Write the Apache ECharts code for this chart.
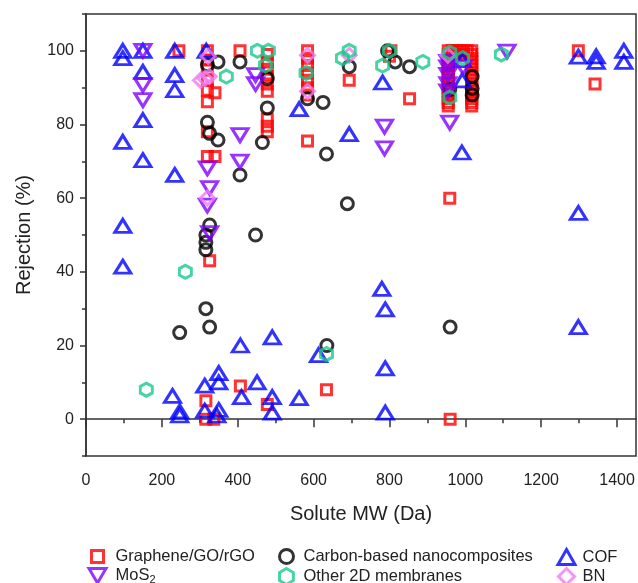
<!DOCTYPE html>
<html>
<head>
<meta charset="utf-8">
<script src="https://cdn.jsdelivr.net/npm/echarts@6/dist/echarts.min.js"></script>
<style>
html,body{margin:0;padding:0;background:#fff;}
#chart{width:638px;height:583px;}
</style>
</head>
<body>
<div id="chart"></div>
<script>
// ---- data ----
const xTicks = [0, 200, 400, 600, 800, 1000, 1200, 1400];
const xMinorTicks = [100, 300, 500, 700, 900, 1100, 1300];
const yTicks = [0, 20, 40, 60, 80, 100];
const yMinorTicks = [-10, 10, 30, 50, 70, 90, 110];

const seriesNames = ['Graphene/GO/rGO', 'Carbon-based nanocomposites', 'COF', 'MoS2', 'Other 2D membranes', 'BN'];

const grapheneData = [
  [245,100],[320,100],[320,97.5],[320,95],[320,92],[320,89.3],[320,86.2],[340,88.6],[320,78],[320,71.3],[340,71.3],
  [326,43],[316,5],[316,0],[337,0],[407,9],[478,4],[406,100],
  [478,99],[478,97],[478,95],[478,93],[478,91],[478,89],[478,81.5],[478,79.5],[478,78],
  [584,100],[584,98],[584,96],[584,94],[584,92],[584,90],[584,88],[584,75.5],
  [694,92],[853,87],[804,100],[800,98.5],[634,8],[960,0],[959,60],[1298,100],[1342,91],
  [955,100],[955,99],[955,98],[955,97],[955,96],[955,95],[955,94],[955,93],[955,92],[955,91],[955,90],[955,89],[955,88],[955,87],[955,86],[955,85],
  [965,100],[975,100],[985,100],[995,100],[1005,100],[975,99],[995,99],
  [1017,100],[1017,99],[1017,98],[1017,97],[1017,96],[1017,95],[1017,94],[1017,93],[1017,92],[1017,91],[1017,90],[1017,89],[1017,88],[1017,87],[1017,86],[1017,85]
];
const carbonData = [
  [320,96.2],[348,97],[406,97],[320,80.6],[326,77.6],[348,75.8],[406,66.3],[465,75.1],[478,92.5],[478,84.5],
  [584,87],[625,86],[634,72],[326,52.7],[316,50],[316,48],[316,46],[447,50],[247,23.5],[316,30],[326,25],[635,20],
  [694,95.7],[795,100],[815,97],[853,95.7],[689,58.5],[1018,93],[1018,89.8],[1018,88],[959,89.5],[960,25]
];
const cofData = [
  [97,100],[97,98],[97,75.3],[97,52.5],[97,41.4],[150,100],[150,94.3],[150,81.2],[150,70.3],
  [234,100],[234,93.4],[234,89.3],[234,66.3],[317,100],[562,84.2],[694,77.4],[782,91.4],[991,72.4],
  [992,97.5],[992,92],[1298,98.4],[1345,98.5],[1345,97],[1418,100],[1418,97],[1298,56],
  [780,35.4],[789,29.8],[789,13.8],[789,1.8],[1298,25],[228,6.3],[247,2.1],[247,1],[313,9.1],[313,2.3],
  [350,12.5],[350,10],[350,2.5],[345,1],[407,20],[410,6],[451,10],[491,22.2],[491,6],[491,1.8],[562,5.7],[613,17.4]
];
const mos2Data = [
  [150,100],[150,90.7],[150,86.6],[406,77.1],[406,69.9],[447,93.4],[447,91],[320,68.1],[326,62.7],[320,58],[326,50.5],
  [787,79.4],[787,73.5],[959,80.5],[1110,99.8],[954,97],[954,95.5],[954,93.5],[954,91],[954,89],[994,95.5]
];
const otherData = [
  [452,100],[481,100],[473,96],[370,93],[580,94],[262,40],[159,8],[634,17.7],[676,98],[694,100],[800,100],
  [782,96],[888,97],[959,99.5],[959,87.3],[993,98],[1095,99]
];
const bnData = [
  [322,98.5],[302,92],[314,92.5],[325,93],[320,60],[584,98.8],[584,89],[694,98.8],[954,98.8]
];

// ---- chart ----
const FONT = "Arial, 'Liberation Sans', sans-serif";
const hexPath = 'path://M0,-1 L0.866,-0.5 L0.866,0.5 L0,1 L-0.866,0.5 L-0.866,-0.5 Z';
const invTriPath = 'path://M-1,-0.85 L1,-0.85 L0,0.85 Z';

const styles = [
  { symbol: 'rect', size: [10, 10], legend: [12, 12], color: '#ff0000', rotate: 0 },
  { symbol: 'circle', size: [12, 12], legend: [14, 14], color: '#000000', rotate: 0 },
  { symbol: 'triangle', size: [16, 13], legend: [17, 15], color: '#0000ff', rotate: 0 },
  { symbol: 'triangle', size: [16, 13], legend: [17, 15], color: '#8000ff', rotate: 180, legendIcon: invTriPath },
  { symbol: hexPath, size: [12, 13], legend: [14, 16], color: '#18c98b', rotate: 0, legendIcon: hexPath },
  { symbol: 'diamond', size: [14, 14], legend: [16, 16], color: '#f07cf0', rotate: 0, legendIcon: 'diamond' }
];
const seriesData = [grapheneData, carbonData, cofData, mos2Data, otherData, bnData];

function hollow(color) {
  return { color: 'rgba(255,255,255,0)', borderColor: color, borderWidth: 3 };
}

// legend layout: [iconCenterX, textStartX, rowCenterY]
const legendPos = [
  [91, 115, 553], [280, 303, 553], [560, 582, 553],
  [91, 115, 572], [280, 303, 572], [560, 582, 572]
];

const chart = echarts.init(document.getElementById('chart'), null, { renderer: 'canvas' });

const legends = seriesNames.map(function (name, i) {
  const st = styles[i];
  const p = legendPos[i];
  const w = st.legend[0], h = st.legend[1];
  const item = { name: name };
  if (st.legendIcon) item.icon = st.legendIcon;
  return {
    left: p[0] - w / 2,
    top: p[2] - 10,
    itemWidth: w,
    itemHeight: h,
    data: [item],
    itemStyle: { borderWidth: 3, color: 'rgba(255,255,255,0)', borderColor: st.color },
    textStyle: {
      fontFamily: FONT, fontSize: 16.5, color: '#222', padding: [0, 0, 0, p[1] - (p[0] + w / 2) - 11],
      rich: { s: { fontFamily: FONT, fontSize: 11, padding: [8, 0, 0, 0], color: '#222' } }
    },
    formatter: function (n) { return n === 'MoS2' ? 'MoS{s|2}' : n; }
  };
});

const option = {
  backgroundColor: '#fff',
  animation: false,
  grid: { left: 86, top: 14, right: 2, bottom: 127, show: true, borderColor: '#333', borderWidth: 1.5 },
  legend: legends,
  xAxis: [
    {
      type: 'value', min: 0, max: 1450,
      name: 'Solute MW (Da)', nameLocation: 'middle', nameGap: 48,
      nameTextStyle: { fontFamily: FONT, fontSize: 20, color: '#222' },
      axisLine: { show: true, lineStyle: { color: '#333', width: 1.5 } },
      axisTick: { show: true, length: 8, customValues: xTicks, lineStyle: { color: '#333', width: 1.5 } },
      axisLabel: { customValues: xTicks, fontFamily: FONT, fontSize: 16, color: '#222', margin: 17,
        formatter: function (v) { return String(v); } },
      splitLine: { show: false }
    },
    {
      type: 'value', min: 0, max: 1450, position: 'bottom',
      axisLine: { show: false },
      axisTick: { show: true, length: 4, customValues: xMinorTicks, lineStyle: { color: '#333', width: 1.5 } },
      axisLabel: { show: false },
      splitLine: { show: false }
    }
  ],
  yAxis: [
    {
      type: 'value', min: -10, max: 110,
      name: 'Rejection (%)', nameLocation: 'middle', nameGap: 52,
      nameTextStyle: { fontFamily: FONT, fontSize: 20, color: '#222' },
      axisLine: { show: true, lineStyle: { color: '#333', width: 1.5 } },
      axisTick: { show: true, length: 6, customValues: yTicks, lineStyle: { color: '#333', width: 1.5 } },
      axisLabel: { customValues: yTicks, fontFamily: FONT, fontSize: 16, color: '#222', margin: 12,
        formatter: function (v) { return String(v); } },
      splitLine: { show: false }
    },
    {
      type: 'value', min: -10, max: 110, position: 'left',
      axisLine: { show: false },
      axisTick: { show: true, length: 4, customValues: yMinorTicks, lineStyle: { color: '#333', width: 1.5 } },
      axisLabel: { show: false },
      splitLine: { show: false }
    }
  ],
  // draw order: graphene, carbon, COF, MoS2, BN, other 2D
  series: [0, 1, 2, 3, 5, 4].map(function (i) {
    const st = styles[i];
    return {
      name: seriesNames[i], type: 'scatter', data: seriesData[i],
      symbol: st.symbol, symbolSize: st.size, symbolRotate: st.rotate,
      itemStyle: hollow(st.color)
    };
  })
};
chart.setOption(option);
</script>
</body>
</html>
